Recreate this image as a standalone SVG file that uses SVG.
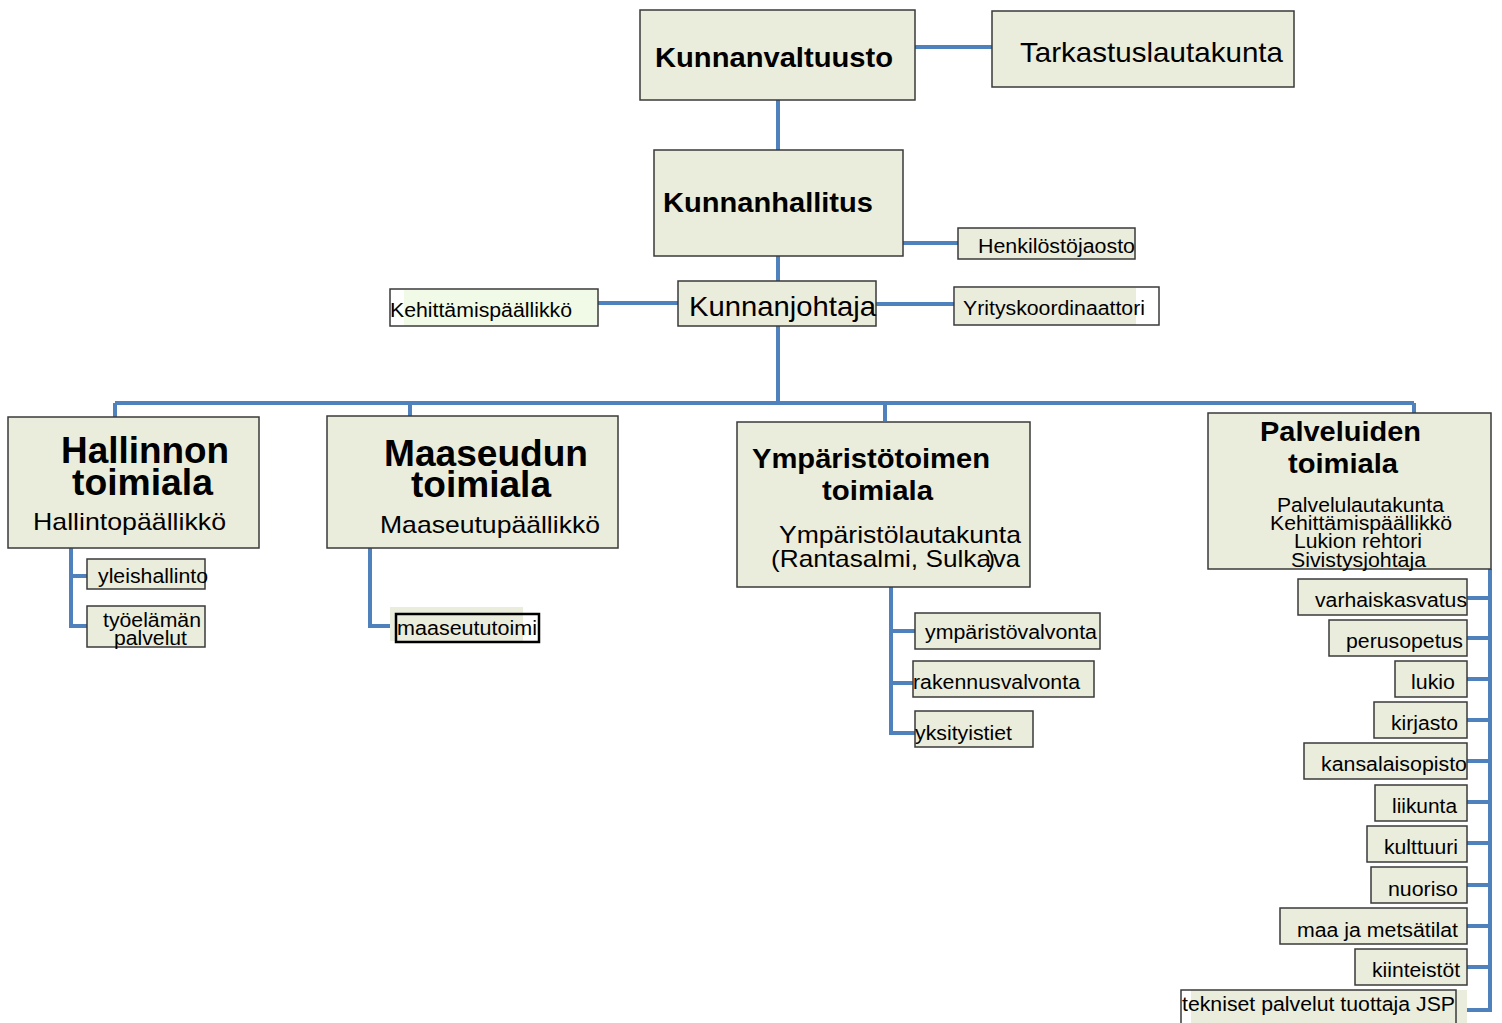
<svg xmlns="http://www.w3.org/2000/svg" width="1502" height="1023" viewBox="0 0 1502 1023">
<style>
.b{fill:#EBEDDC;stroke:#3a3a3a;stroke-width:1.5}
.o{fill:none;stroke:#3a3a3a;stroke-width:1.5}
text{font-family:"Liberation Sans",Arial,sans-serif;fill:#000}
.h{font-weight:bold}
.c{fill:none;stroke:#4F81BD;stroke-width:4}
</style>
<rect width="1502" height="1023" fill="#fff"/>
<g id="connectors">
<path class="c" d="M915 47H992M778 100V151M903 243H958M778 256V281M598 303H678M876 304H954M778 326V403M115 403H1414M115 403V417M410 403V416M885 403V421M1414 403V413"/>
<path class="c" d="M71 548V626H87M71 576H87M370 548V626H396M891 587V733H915M891 631H915M891 683H913"/>
<path class="c" d="M1490 569V1010H1467M1467 598H1490M1467 638H1490M1467 679H1490M1467 720H1490M1467 761H1490M1467 802H1490M1467 843H1490M1467 885H1490M1467 926H1490M1467 967H1490"/>
</g>
<g id="kunnanvaltuusto"><rect class="b" x="640" y="10" width="275" height="90"/><text class="h" x="655" y="67" font-size="28" textLength="238" lengthAdjust="spacingAndGlyphs">Kunnanvaltuusto</text></g>
<g id="tarkastuslautakunta"><rect class="b" x="992" y="11" width="302" height="76"/><text x="1020" y="62" font-size="28" textLength="263" lengthAdjust="spacingAndGlyphs">Tarkastuslautakunta</text></g>
<g id="kunnanhallitus"><rect class="b" x="654" y="150" width="249" height="106"/><text class="h" x="663" y="212" font-size="28" textLength="210" lengthAdjust="spacingAndGlyphs">Kunnanhallitus</text></g>
<g id="henkilostojaosto"><rect class="b" x="958" y="228" width="177" height="31"/><text x="978" y="253" font-size="20" textLength="157" lengthAdjust="spacingAndGlyphs">Henkilöstöjaosto</text></g>
<g id="kunnanjohtaja"><rect class="b" x="678" y="281" width="198" height="45"/><text x="689" y="316" font-size="28" textLength="187" lengthAdjust="spacingAndGlyphs">Kunnanjohtaja</text></g>
<g id="kehittamispaallikko"><rect x="404" y="290" width="194" height="36" fill="#F1FAE6"/><rect class="o" x="390" y="289" width="208" height="37"/><text x="390" y="317" font-size="20" textLength="182" lengthAdjust="spacingAndGlyphs">Kehittämispäällikkö</text></g>
<g id="yrityskoordinaattori"><rect x="955" y="288" width="181" height="37" fill="#EBEDDC"/><rect class="o" x="954" y="287" width="205" height="38"/><text x="963" y="315" font-size="20" textLength="182" lengthAdjust="spacingAndGlyphs">Yrityskoordinaattori</text></g>
<g id="hallinnon"><rect class="b" x="8" y="417" width="251" height="131"/>
<text class="h" x="61" y="463" font-size="36" textLength="168" lengthAdjust="spacingAndGlyphs">Hallinnon</text>
<text class="h" x="72" y="495" font-size="36" textLength="141" lengthAdjust="spacingAndGlyphs">toimiala</text>
<text x="33" y="530" font-size="24" textLength="193" lengthAdjust="spacingAndGlyphs">Hallintopäällikkö</text></g>
<g id="maaseudun"><rect class="b" x="327" y="416" width="291" height="132"/>
<text class="h" x="384" y="466" font-size="36" textLength="204" lengthAdjust="spacingAndGlyphs">Maaseudun</text>
<text class="h" x="411" y="497" font-size="36" textLength="140" lengthAdjust="spacingAndGlyphs">toimiala</text>
<text x="380" y="533" font-size="24" textLength="220" lengthAdjust="spacingAndGlyphs">Maaseutupäällikkö</text></g>
<g id="ymparisto"><rect class="b" x="737" y="422" width="293" height="165"/>
<text class="h" x="752" y="468" font-size="28" textLength="238" lengthAdjust="spacingAndGlyphs">Ympäristötoimen</text>
<text class="h" x="822" y="500" font-size="28" textLength="111" lengthAdjust="spacingAndGlyphs">toimiala</text>
<text x="779" y="543" font-size="24" textLength="242" lengthAdjust="spacingAndGlyphs">Ympäristölautakunta</text>
<text x="771" y="567" font-size="24" textLength="220" lengthAdjust="spacingAndGlyphs">(Rantasalmi, Sulka</text>
<text x="987" y="567" font-size="24">)</text>
<text x="993" y="567" font-size="24" textLength="27" lengthAdjust="spacingAndGlyphs">va</text></g>
<g id="palveluiden"><rect class="b" x="1208" y="413" width="283" height="156"/>
<text class="h" x="1260" y="441" font-size="28" textLength="161" lengthAdjust="spacingAndGlyphs">Palveluiden</text>
<text class="h" x="1288" y="473" font-size="28" textLength="110" lengthAdjust="spacingAndGlyphs">toimiala</text>
<text x="1277" y="512" font-size="20" textLength="167" lengthAdjust="spacingAndGlyphs">Palvelulautakunta</text>
<text x="1270" y="530" font-size="20" textLength="182" lengthAdjust="spacingAndGlyphs">Kehittämispäällikkö</text>
<text x="1294" y="548" font-size="20" textLength="128" lengthAdjust="spacingAndGlyphs">Lukion rehtori</text>
<text x="1291" y="567" font-size="20" textLength="135" lengthAdjust="spacingAndGlyphs">Sivistysjohtaja</text></g>
<g id="yleishallinto"><rect class="b" x="87" y="559" width="118" height="30"/><text x="98" y="583" font-size="20" textLength="110" lengthAdjust="spacingAndGlyphs">yleishallinto</text></g>
<g id="tyoelaman"><rect class="b" x="87" y="606" width="118" height="41"/><text x="103" y="627" font-size="20" textLength="98" lengthAdjust="spacingAndGlyphs">työelämän</text><text x="114" y="645" font-size="20" textLength="73" lengthAdjust="spacingAndGlyphs">palvelut</text></g>
<g id="maaseututoimi"><rect x="390" y="607" width="133" height="34" fill="#EBEDDC"/><rect x="396" y="614" width="143" height="28" fill="none" stroke="#000" stroke-width="2.5"/><text x="397" y="635" font-size="20" textLength="140" lengthAdjust="spacingAndGlyphs">maaseututoimi</text></g>
<g id="ymparistovalvonta"><rect class="b" x="915" y="613" width="185" height="36"/><text x="925" y="639" font-size="20" textLength="172" lengthAdjust="spacingAndGlyphs">ympäristövalvonta</text></g>
<g id="rakennusvalvonta"><rect class="b" x="913" y="661" width="181" height="36"/><text x="913" y="689" font-size="20" textLength="167" lengthAdjust="spacingAndGlyphs">rakennusvalvonta</text></g>
<g id="yksityistiet"><rect class="b" x="915" y="711" width="118" height="36"/><text x="915" y="740" font-size="20" textLength="97" lengthAdjust="spacingAndGlyphs">yksityistiet</text></g>
<g id="varhaiskasvatus"><rect class="b" x="1298" y="579" width="169" height="36"/><text x="1315" y="607" font-size="20" textLength="152" lengthAdjust="spacingAndGlyphs">varhaiskasvatus</text></g>
<g id="perusopetus"><rect class="b" x="1329" y="620" width="138" height="36"/><text x="1346" y="648" font-size="20" textLength="117" lengthAdjust="spacingAndGlyphs">perusopetus</text></g>
<g id="lukio"><rect class="b" x="1395" y="661" width="72" height="36"/><text x="1411" y="689" font-size="20" textLength="44" lengthAdjust="spacingAndGlyphs">lukio</text></g>
<g id="kirjasto"><rect class="b" x="1374" y="702" width="93" height="36"/><text x="1391" y="730" font-size="20" textLength="67" lengthAdjust="spacingAndGlyphs">kirjasto</text></g>
<g id="kansalaisopisto"><rect class="b" x="1304" y="743" width="163" height="36"/><text x="1321" y="771" font-size="20" textLength="146" lengthAdjust="spacingAndGlyphs">kansalaisopisto</text></g>
<g id="liikunta"><rect class="b" x="1375" y="785" width="92" height="36"/><text x="1392" y="813" font-size="20" textLength="65" lengthAdjust="spacingAndGlyphs">liikunta</text></g>
<g id="kulttuuri"><rect class="b" x="1367" y="826" width="100" height="36"/><text x="1384" y="854" font-size="20" textLength="74" lengthAdjust="spacingAndGlyphs">kulttuuri</text></g>
<g id="nuoriso"><rect class="b" x="1371" y="867" width="96" height="36"/><text x="1388" y="896" font-size="20" textLength="70" lengthAdjust="spacingAndGlyphs">nuoriso</text></g>
<g id="maajametsatilat"><rect class="b" x="1280" y="908" width="187" height="36"/><text x="1297" y="937" font-size="20" textLength="161" lengthAdjust="spacingAndGlyphs">maa ja metsätilat</text></g>
<g id="kiinteistot"><rect class="b" x="1355" y="949" width="112" height="36"/><text x="1372" y="977" font-size="20" textLength="88" lengthAdjust="spacingAndGlyphs">kiinteistöt</text></g>
<g id="tekniset"><rect x="1191" y="990" width="276" height="33" fill="#EBEDDC"/><rect class="o" x="1181" y="990" width="275" height="36"/><text x="1182" y="1011" font-size="20" textLength="273" lengthAdjust="spacingAndGlyphs">tekniset palvelut tuottaja JSP</text></g>
</svg>
